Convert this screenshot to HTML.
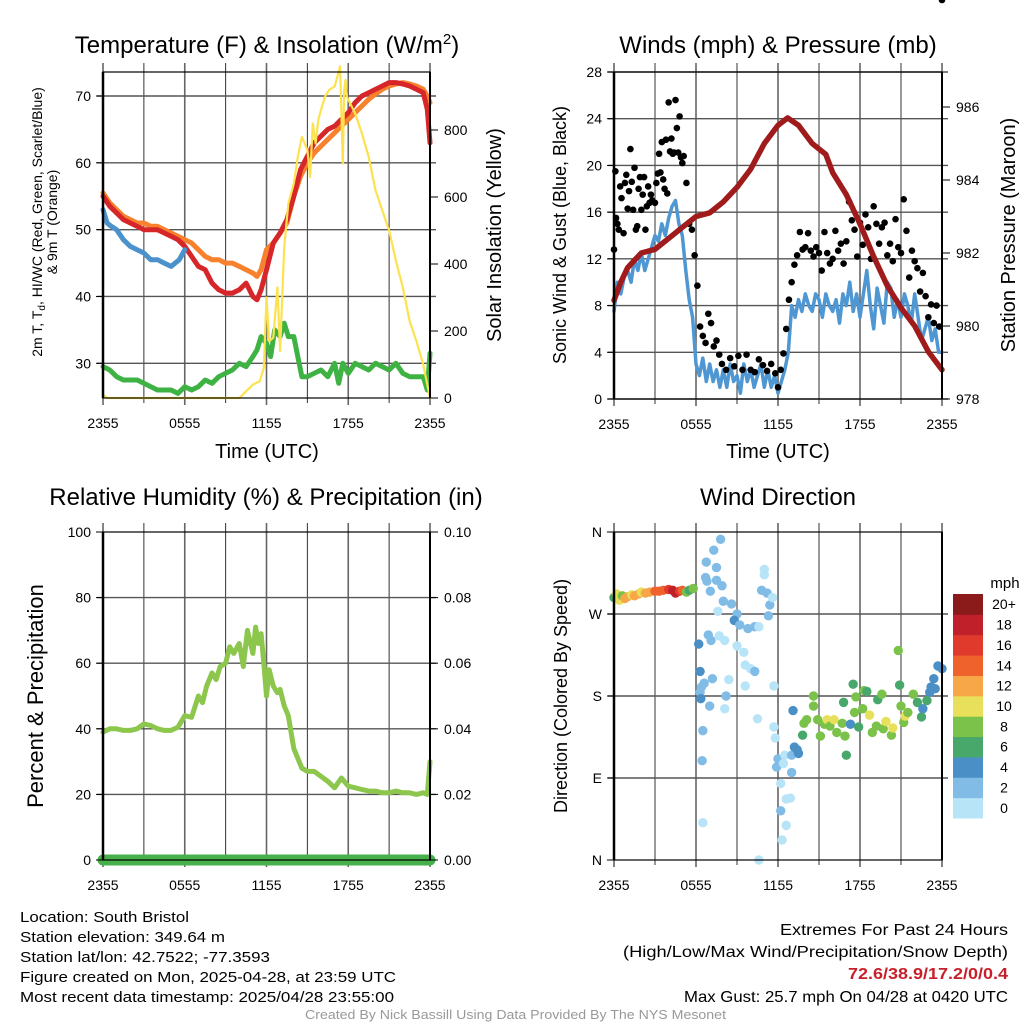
<!DOCTYPE html>
<html><head><meta charset="utf-8"><style>
html,body{margin:0;padding:0;background:#fff}
svg{display:block;font-family:"Liberation Sans",sans-serif}
.tk{font-size:14px;fill:#000}
.nar{font-family:"Liberation Sans Narrow","Liberation Sans",sans-serif}
</style></head><body>
<svg id="s" width="1024" height="1024" viewBox="0 0 1024 1024">
<g id="bg"><rect width="1024" height="1024" fill="#fff"/></g>
<g id="grids"></g>
<g id="marks"></g>
<g id="axes"></g>
<text x="267" y="53" font-size="24" text-anchor="middle">Temperature (F) &amp; Insolation (W/m<tspan dy="-9" font-size="15">2</tspan><tspan dy="9">)</tspan></text>
<text x="778" y="53" font-size="24" text-anchor="middle">Winds (mph) &amp; Pressure (mb)</text>
<text x="266" y="505" font-size="24" text-anchor="middle">Relative Humidity (%) &amp; Precipitation (in)</text>
<text x="778" y="505" font-size="24" text-anchor="middle">Wind Direction</text>
<text transform="translate(42,222) rotate(-90)" font-size="14" text-anchor="middle">2m T, T<tspan font-size="10" dy="3">d</tspan><tspan dy="-3">, HI/WC (Red, Green, Scarlet/Blue)</tspan></text>
<text transform="translate(57,222) rotate(-90)" font-size="14" text-anchor="middle">&amp; 9m T (Orange)</text>
<text transform="translate(501,235) rotate(-90)" font-size="20" text-anchor="middle">Solar Insolation (Yellow)</text>
<text x="267" y="458" font-size="20" text-anchor="middle">Time (UTC)</text>
<text x="778" y="458" font-size="20" text-anchor="middle">Time (UTC)</text>
<text transform="translate(566,235) rotate(-90)" font-size="18" text-anchor="middle">Sonic Wind &amp; Gust (Blue, Black)</text>
<text transform="translate(1015,235) rotate(-90)" font-size="20" text-anchor="middle">Station Pressure (Maroon)</text>
<text transform="translate(43,696) rotate(-90)" font-size="22" text-anchor="middle">Percent &amp; Precipitation</text>
<text transform="translate(567,696) rotate(-90)" font-size="18" text-anchor="middle">Direction (Colored By Speed)</text>
<text x="1005" y="588" font-size="15" text-anchor="middle">mph</text>
<g class="nar" font-size="15">
<text x="20" y="922" textLength="169" lengthAdjust="spacingAndGlyphs">Location: South Bristol</text>
<text x="20" y="942" textLength="205" lengthAdjust="spacingAndGlyphs">Station elevation: 349.64 m</text>
<text x="20" y="962" textLength="250" lengthAdjust="spacingAndGlyphs">Station lat/lon: 42.7522; -77.3593</text>
<text x="20" y="982" textLength="376" lengthAdjust="spacingAndGlyphs">Figure created on Mon, 2025-04-28, at 23:59 UTC</text>
<text x="20" y="1002" textLength="374" lengthAdjust="spacingAndGlyphs">Most recent data timestamp: 2025/04/28 23:55:00</text>
</g>
<g class="nar" font-size="16">
<text x="780" y="935" textLength="228" lengthAdjust="spacingAndGlyphs">Extremes For Past 24 Hours</text>
<text x="623" y="957" textLength="385" lengthAdjust="spacingAndGlyphs">(High/Low/Max Wind/Precipitation/Snow Depth)</text>
<text x="848" y="979" textLength="160" lengthAdjust="spacingAndGlyphs" fill="#c8202a" font-weight="bold">72.6/38.9/17.2/0/0.4</text>
<text x="684" y="1002" textLength="324" lengthAdjust="spacingAndGlyphs">Max Gust: 25.7 mph On 04/28 at 0420 UTC</text>
</g>
<text class="nar" x="305" y="1019" font-size="13" fill="#999" textLength="421" lengthAdjust="spacingAndGlyphs">Created By Nick Bassill Using Data Provided By The NYS Mesonet</text>
</svg>
<script>
// ---------- data ----------
const timeTicks=['2355','0555','1155','1755','2355'];
const tempTicks=[30,40,50,60,70];
const solarTicks=[0,200,400,600,800];
const windTicks=[0,4,8,12,16,20,24,28];
const presTicks=[978,980,982,984,986];
const rhTicks=[0,20,40,60,80,100];
const precTicks=['0.00','0.02','0.04','0.06','0.08','0.10'];
const dirTicks=['N','E','S','W','N'];
const speedBins=['0','2','4','6','8','10','12','14','16','18','20+'];
const speedColors=['#b8e4f8','#80bce6','#4a8fc6','#48a86b','#7bc24a','#e8e05a','#f7a648','#f0622c','#e03a2c','#c0202a','#8b1a1a'];

const tempHours=[0,0.5,1,1.5,2,2.5,3,3.5,4,4.5,5,5.5,6,6.5,7,7.5,8,8.5,9,9.5,10,10.5,11,11.3,11.6,12,12.5,13,13.5,14,14.5,15,15.5,16,16.5,17,17.5,18,18.5,19,19.5,20,20.5,21,21.5,22,22.5,23,23.5,23.8,24];
const tempRed=[55,53.5,52.5,51.5,51,50.5,50,50,50,49.5,49,48.5,47.5,46,44.5,44,42,41,40.5,40.5,41,42,40,39.5,41,44,48,49.5,51.5,55,59,61,63,64,65,65.5,66.5,67.5,69,70,70.5,71,71.5,72,72,71.8,71.5,71,70.5,68,63];
const tempOrange=[55.5,54,53,52,51.5,51,51,50.5,50.5,50,49.5,49,48.5,48,47,46,45.5,45.5,45,45,44.5,44,43.5,43,44,47,48,49.5,51,55,58,60,61.5,62.5,63.5,64.5,65.5,66.5,67.5,68.5,69.5,70.3,71,71.5,71.8,72,71.8,71.5,71,70,69];
const chillHours=[0,0.3,0.6,1,1.5,2,2.5,3,3.5,4,4.5,5,5.3,5.6,6];
const chillBlue=[53,51,50.5,50,48.5,47.5,47,46.5,45.5,45.5,45,44.5,45,45.5,47];
const dewHours=[0,0.5,1,1.5,2,2.5,3,3.5,4,4.5,5,5.5,6,6.5,7,7.5,8,8.5,9,9.5,10,10.5,11,11.3,11.6,12,12.3,12.6,13,13.3,13.6,14,14.3,14.6,15,15.5,16,16.5,17,17.3,17.6,18,18.5,19,19.5,20,20.5,21,21.5,22,22.5,23,23.5,23.8,24];
const dewGreen=[29.5,29,28,27.5,27.5,27.5,27,26.5,26,26,26,25.5,26.5,26,26.5,27.5,27,28,28.5,29,30,29.5,31,32,34,33,31,35,34,36,34,34,31,28,28,28.5,29,28,30,27,30,28.5,30,29.5,29,30,29.5,29,30,28.5,28,28,28,26,31.5];
const solarHours=[0,0.3,5,10,10.5,11,11.5,11.8,12,12.2,12.5,12.8,13,13.3,13.6,14,14.3,14.6,15,15.2,15.4,15.6,15.8,16,16.3,16.6,17,17.2,17.4,17.6,17.7,17.8,17.9,18,18.5,19,19.5,20,20.5,21,21.5,22,22.5,23,23.5,23.8,24];
const solarVals=[10,0,0,0,20,40,50,90,300,170,180,330,140,450,580,640,720,780,740,660,820,760,830,860,900,920,930,960,990,700,920,950,900,890,850,790,720,620,560,500,410,330,230,170,100,40,0];

const windHours=[0,0.25,0.5,0.75,1,1.25,1.5,1.75,2,2.25,2.5,2.75,3,3.25,3.5,3.75,4,4.25,4.5,4.75,5,5.25,5.5,5.75,6,6.25,6.5,6.75,7,7.25,7.5,7.75,8,8.25,8.5,8.75,9,9.25,9.5,9.75,10,10.25,10.5,10.75,11,11.25,11.5,11.75,12,12.25,12.5,12.75,13,13.25,13.5,13.75,14,14.25,14.5,14.75,15,15.25,15.5,15.75,16,16.25,16.5,16.75,17,17.25,17.5,17.75,18,18.25,18.5,18.75,19,19.25,19.5,19.75,20,20.25,20.5,20.75,21,21.25,21.5,21.75,22,22.25,22.5,22.75,23,23.25,23.5,23.75,24];
const windBlue=[7.5,10,9,10.5,11,10,12,11,12.5,11,12,13,14,13.5,15,14,15.5,16.5,17,15,14,11,8.5,7,3,2,3.5,1.5,3,1.5,2.5,1,2.5,1,3,1.5,2,0.5,3,1.5,2.5,1,2,3,1,2.5,1,2,0.5,1.5,2.5,4,8,7,8.5,7.5,9,8,7.5,9,8.5,7,9,8,7.5,8.5,6.5,9,8,10,7.5,9,7,9,11,8,6,9.5,8,6.5,10,9.5,7,8.5,7,9,8,6.5,9,7,5,6,7,5,6,4,4];
const gustHours=[0,0.1,0.15,0.25,0.35,0.45,0.55,0.7,0.8,0.9,1,1.1,1.2,1.3,1.4,1.5,1.6,1.7,1.8,1.9,2,2.1,2.2,2.3,2.4,2.5,2.6,2.7,2.8,3,3.1,3.2,3.3,3.4,3.5,3.6,3.7,3.8,3.9,4,4.1,4.2,4.3,4.4,4.5,4.6,4.7,4.8,4.9,5,5.1,5.3,5.5,5.7,5.9,6.1,6.3,6.5,6.7,6.9,7.1,7.3,7.5,7.7,7.9,8.2,8.5,8.8,9.1,9.4,9.7,10,10.3,10.6,10.9,11.2,11.5,11.8,12,12.2,12.4,12.6,12.8,13,13.2,13.4,13.6,13.8,14,14.2,14.4,14.6,14.8,15,15.2,15.4,15.6,15.8,16,16.2,16.4,16.6,16.8,17,17.2,17.4,17.6,17.8,18,18.2,18.4,18.6,18.8,19,19.2,19.4,19.6,19.8,20,20.2,20.4,20.6,20.8,21,21.2,21.4,21.6,21.8,22,22.2,22.4,22.6,22.8,23,23.2,23.4,23.6,23.8,24];
const gustVals=[12.8,19.5,15.5,15,14.5,18.2,17.2,14.2,18.5,19.2,16.3,17.8,21.4,18.6,16.2,19.8,14.5,14.8,18,19,16.2,17.5,19,14.5,16.5,18.2,16.8,17.5,17,16.8,18.5,19.3,21,19.4,22,18.8,18,22.2,17.6,25.4,21.2,22.3,21,21.1,25.6,23.2,21.1,24.2,20.7,20.2,20.8,18.5,15,14.5,12.3,9.7,6.2,5.4,4.8,7.3,6.5,4.5,5,3.8,3,2.5,3.5,2.8,3.7,2.5,3.8,2.5,2.3,3.4,2.9,2.4,3,2.2,1,2.5,3.9,6,8.5,10,11.5,12.3,14.3,12.8,13,14.2,12.7,12.2,13,12.5,11,14.3,12.5,11.6,12,14.4,12.7,13.3,11.6,13.5,16.9,15.3,14.5,12.2,15.1,13.2,15.8,14.7,12,16.5,15,13.3,14.7,15.1,12.3,13.3,11.8,15.4,13,12.5,17.1,14.4,10.4,12.7,11.8,11.2,9.2,10.8,8.8,7,8.1,6.5,8,6.2];
const presHours=[0,0.5,1,2,3,4,5,6,7,8,9,10,11,12,12.7,13.5,14.5,15.5,16,17,18,19,20,21,22,23,24];
const presVals=[980.7,981.2,981.6,982.0,982.1,982.4,982.7,983.0,983.1,983.4,983.8,984.3,985.0,985.5,985.7,985.5,985.0,984.7,984.2,983.6,982.8,981.9,981.1,980.5,980.0,979.3,978.8];

const rhHours=[0,0.5,1,1.5,2,2.5,3,3.5,4,4.5,5,5.5,6,6.5,7,7.3,7.6,8,8.3,8.6,9,9.3,9.6,10,10.3,10.6,11,11.2,11.4,11.6,11.8,12,12.2,12.5,12.8,13,13.3,13.6,14,14.3,14.6,15,15.5,16,16.5,17,17.5,18,18.5,19,19.5,20,20.5,21,21.5,22,22.5,23,23.5,23.8,24];
const rhVals=[39,40,40,39.5,39.5,40,41.5,41,40,39.5,39.5,40.5,44,43.5,50,48,53,57,55,59,60,65,63,66,59,70,63,71,66,69,60,50,58,53,51,52,47,44,34,31,28,27,27,25.5,24,22,25,22.5,22,21.5,21,21,20.5,20.5,21,20.5,20.5,20,20.5,20,30];
const precipHours=[0,24];
const precipVals=[0,0];

const dirHours=[0,0.2,0.4,0.6,0.8,1,1.3,1.5,1.8,2,2.3,2.6,3,3.3,3.6,4,4.3,4.5,4.8,5,5.3,5.5,5.8,6.2,6.3,6.3,6.35,6.4,6.5,6.45,6.6,6.5,6.7,6.75,6.8,7.05,6.9,7.1,7.0,7.2,7.3,7.5,7.8,7.5,7.9,7.6,8.0,7.7,8.1,8.4,8.2,8.1,8.6,9.0,8.8,9.2,9.0,9.5,9.6,9.6,9.8,10.3,10.6,10.0,10.3,10.5,10.6,10.8,11.0,11.0,11.2,11.4,11.3,11.6,11.7,11.7,11.8,12.0,11.9,12.2,12.2,12.3,12.6,12.6,12.9,12.4,12.5,13.0,13.0,13.1,13.2,13.5,13.4,13.8,13.9,14.1,14.6,14.6,14.9,15.1,15.4,15.6,15.8,16.1,16.3,16.7,16.8,17.0,16.9,17.3,17.5,17.6,17.7,17.9,18.2,18.3,18.5,18.7,18.9,19.2,19.3,19.6,19.7,19.9,20.3,20.4,20.8,20.9,21.0,21.2,21.3,21.5,21.9,22.2,22.5,22.6,22.9,23.1,23.2,23.5,23.4,23.7,24.0];
const dirVals=[288,292,285,290,287,289,291,290,292,294,293,294,295,295,296,297,296,293,295,296,294,296,298,237,207,184,177,190,142,109,194,41,310,327,306,295,247,241,169,199,340,321,352,307,301,273,284,246,241,198,180,166,281,270,263,258,235,228,214,191,254,256,256,210,207,155,0,296,319,313,293,280,268,288,191,146,134,111,102,84,54,22,38,67,68,106,115,115,96,164,124,117,121,137,150,154,180,169,154,136,149,154,147,154,140,150,173,115,136,149,193,162,179,146,166,186,185,159,140,147,176,182,144,152,137,145,230,192,169,151,158,162,182,173,157,166,175,184,190,188,199,213,210];
const dirSpeeds=[6,10,10,8,12,12,10,12,12,11,13,13,14,15,15,17,19,18,17,15,8,7,8,4,4,3,4,2,2,2,2,1,2,2,2,2,2,2,2,2,2,2,2,2,2,0,2,0,0,0,2,0,2,2,4,2,0,0,0,0,2,2,0,0,2,0,0,2,0,0,2,2,2,0,0,0,0,2,2,0,2,0,0,0,0,0,0,2,2,4,4,4,4,6,8,8,8,8,8,8,8,10,8,10,8,8,6,6,8,4,6,8,8,6,8,8,6,10,8,8,6,8,8,10,8,10,8,6,8,8,10,8,8,6,6,4,6,4,4,4,4,4,4];

// ---------- helpers ----------
const NS='http://www.w3.org/2000/svg';
const G=document.getElementById('grids'),M=document.getElementById('marks'),A=document.getElementById('axes');
function mk(parent,tag,attrs){const e=document.createElementNS(NS,tag);for(const k in attrs)e.setAttribute(k,attrs[k]);parent.appendChild(e);return e;}
const panels={
 temp:{x0:103,x1:430,y0:72,y1:398},
 wind:{x0:614,x1:942,y0:72,y1:399},
 rh:{x0:103,x1:430,y0:532,y1:860},
 dir:{x0:614,x1:942,y0:532,y1:860}
};
function xs(p,h){return p.x0+h/24*(p.x1-p.x0);}
function lin(d0,d1,r0,r1){return v=>r0+(v-d0)/(d1-d0)*(r1-r0);}
const yTemp=lin(30,70,363.3,96), ySolar=lin(0,800,398,130);
const yWind=lin(0,28,399,72), yPres=lin(978,986,399,107);
const yRH=lin(0,100,860,532), yPrec=lin(0,0.1,860,532);
const yDir=lin(0,360,860,532);

function line(parent,p,hs,vs,yf,color,w,name){
 let d='';hs.forEach((h,i)=>{d+=(i?'L':'M')+xs(p,h).toFixed(1)+','+yf(vs[i]).toFixed(1);});
 const e=mk(parent,'path',{d:d,fill:'none',stroke:color,'stroke-width':w,'stroke-linejoin':'round','stroke-linecap':'round'});
 
 
 return e;
}
function frame(p,pname,hlines){
 for(let k=0;k<=8;k++){
  const x=xs(p,k*3);
  const gl=mk(G,'line',{x1:x,x2:x,y1:p.y0-9,y2:p.y1+(k%2==0?7:5),stroke:k%2?'#333':'#666','stroke-width':k%2?1:1.6});
  
  
 }
 hlines.forEach(y=>{
  const hl=mk(G,'line',{x1:p.x0-6,x2:p.x1+6,y1:y,y2:y,stroke:'#555','stroke-width':1.4});
  
  
 });
 const b=mk(A,'rect',{x:p.x0,y:p.y0,width:p.x1-p.x0,height:p.y1-p.y0,fill:'none',stroke:'#000','stroke-width':1.2});
 
 
 const lft=mk(A,'line',{x1:p.x0,x2:p.x0,y1:p.y0,y2:p.y1,stroke:'#000','stroke-width':2.5});
 
 
 const rgt=mk(A,'line',{x1:p.x1,x2:p.x1,y1:p.y0,y2:p.y1,stroke:'#000','stroke-width':2});
 
 
 timeTicks.forEach((t,i)=>{
  const tx=mk(A,'text',{x:xs(p,i*6),y:p.y1+30,'text-anchor':'middle',class:'tk'});tx.textContent=t;
  
  
 });
}
function ylabels(p,vals,labels,yf,side,pname){
 vals.forEach((v,i)=>{
  const y=yf(v);
  const x=side=='l'?p.x0-12:p.x1+14;
  const t=mk(A,'text',{x:x,y:y+5,'text-anchor':side=='l'?'end':'start',class:'tk'});t.textContent=labels[i];
  
  
  const tk=mk(A,'line',{x1:side=='l'?p.x0-7:p.x1,x2:side=='l'?p.x0:p.x1+8,y1:y,y2:y,stroke:'#000','stroke-width':1});
  
  
 });
}

// ---------- panel 1 ----------
let p=panels.temp;
frame(p,'temp',tempTicks.map(yTemp));
ylabels(p,tempTicks,tempTicks,yTemp,'l','temp');
ylabels(p,solarTicks,solarTicks,ySolar,'r','solar');
line(M,p,dewHours,dewGreen,yTemp,'#3fb244',5,'dewpoint-line');
line(M,p,tempHours,tempOrange,yTemp,'#f7812c',5,'temp-9m-line');
line(M,p,tempHours,tempRed,yTemp,'#d7262a',5,'temp-2m-line');
line(M,p,chillHours,chillBlue,yTemp,'#4b92cc',5,'windchill-line');
line(M,p,solarHours,solarVals,ySolar,'#fde24f',2.2,'solar-line');

// ---------- panel 2 ----------
p=panels.wind;
frame(p,'wind',windTicks.map(yWind));
ylabels(p,windTicks,windTicks,yWind,'l','wind');
ylabels(p,presTicks,presTicks,yPres,'r','pressure');
line(M,p,windHours,windBlue,yWind,'#4f97d3',3.5,'sonic-wind-line');
gustHours.forEach((h,i)=>{
 const c=mk(M,'circle',{cx:xs(p,h),cy:yWind(gustVals[i]),r:3.3,fill:'#000'});
 
 
});
line(M,p,presHours,presVals,yPres,'#a01c1c',5.5,'pressure-line');

// ---------- panel 3 ----------
p=panels.rh;
frame(p,'rh',[20,40,60,80].map(yRH));
ylabels(p,rhTicks,rhTicks,yRH,'l','rh');
ylabels(p,[0,0.02,0.04,0.06,0.08,0.1],precTicks,yPrec,'r','precip');
line(M,p,rhHours,rhVals,yRH,'#8dc64c',5,'rh-line');
line(M,p,precipHours,precipVals,yPrec,'#46b04a',11,'precip-line');

// ---------- panel 4 ----------
p=panels.dir;
frame(p,'dir',[90,180,270].map(yDir));
ylabels(p,[0,90,180,270,360],dirTicks,yDir,'l','dir');
dirHours.forEach((h,i)=>{
 const b=Math.min(10,Math.floor(dirSpeeds[i]/2));
 const c=mk(M,'circle',{cx:xs(p,h),cy:yDir(dirVals[i]),r:4.7,fill:speedColors[b]});
 
 
});
// colorbar
const cbTop=594,cbBot=818,cbH=(cbBot-cbTop)/speedBins.length;
speedBins.forEach((lab,i)=>{
 const y=cbBot-(i+1)*cbH;
 const r=mk(A,'rect',{x:953,y:y,width:30,height:cbH+0.5,fill:speedColors[i]});
 
 
 const t=mk(A,'text',{x:1004,y:y+cbH/2+5,'text-anchor':'middle',class:'tk'});t.textContent=lab;
 
 
});
</script>
</body></html>
